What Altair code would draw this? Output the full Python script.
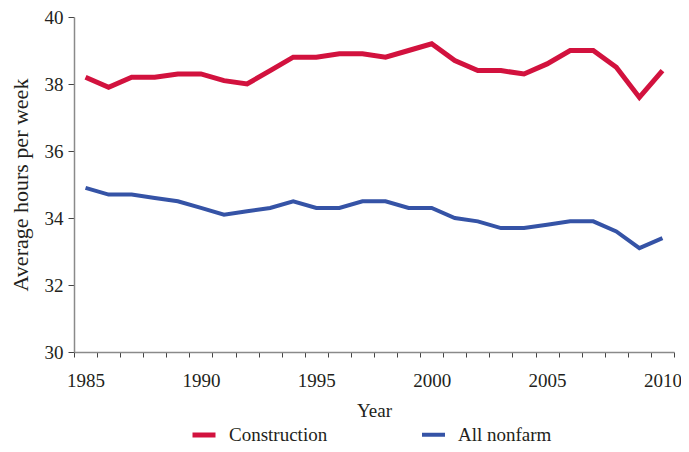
import altair as alt
import pandas as pd

years = list(range(1985, 2011))
construction = [38.2, 37.9, 38.2, 38.2, 38.3, 38.3, 38.1, 38.0, 38.4, 38.8,
                38.8, 38.9, 38.9, 38.8, 39.0, 39.2, 38.7, 38.4, 38.4, 38.3,
                38.6, 39.0, 39.0, 38.5, 37.6, 38.4]
all_nonfarm = [34.9, 34.7, 34.7, 34.6, 34.5, 34.3, 34.1, 34.2, 34.3, 34.5,
               34.3, 34.3, 34.5, 34.5, 34.3, 34.3, 34.0, 33.9, 33.7, 33.7,
               33.8, 33.9, 33.9, 33.6, 33.1, 33.4]
series_names = ["Construction", "All nonfarm"]
series_colors = ["#D2123E", "#3553A6"]
y_ticks = [30, 32, 34, 36, 38, 40]

rows = []
for name, vals in zip(series_names, [construction, all_nonfarm]):
    for yr, v in zip(years, vals):
        rows.append({"year": yr, "hours": v, "series": name})
df = pd.DataFrame(rows)

FONT = "Liberation Serif"
TXT = "#231F20"

chart = alt.Chart(df).mark_line(strokeJoin="miter", strokeCap="butt").encode(
    x=alt.X(
        "year:O",
        bandPosition=0.5,
        scale=alt.Scale(type="band", paddingInner=0, paddingOuter=0),
        axis=alt.Axis(
            title="Year",
            labelAngle=0,
            labelExpr="datum.value % 5 == 0 ? datum.label : ''",
            tickBand="extent",
            tickSize=5,
            labelPadding=14,
            titlePadding=11,
        ),
    ),
    y=alt.Y(
        "hours:Q",
        scale=alt.Scale(domain=[30, 40], nice=False, zero=False),
        axis=alt.Axis(
            title="Average hours per week",
            values=y_ticks,
            format="d",
            tickSize=6,
            labelPadding=5,
            grid=False,
            titleFontSize=22,
            titlePadding=12,
        ),
    ),
    color=alt.Color(
        "series:N",
        scale=alt.Scale(domain=series_names, range=series_colors),
        legend=alt.Legend(
            title=None,
            orient="none",
            legendX=116,
            legendY=404,
            direction="horizontal",
            symbolType="stroke",
            symbolStrokeWidth=5,
            symbolSize=529,
            labelFontSize=19,
            labelFont=FONT,
            labelColor=TXT,
            labelOffset=11,
            columnPadding=86,
            padding=0,
        ),
    ),
    strokeWidth=alt.StrokeWidth(
        "series:N",
        scale=alt.Scale(domain=series_names, range=[5, 4]),
        legend=None,
    ),
).properties(
    width=600,
    height=335,
    autosize=alt.AutoSizeParams(type="none"),
    padding={"left": 66, "top": 9, "right": 7, "bottom": 92},
).configure_view(
    stroke=None
).configure_axis(
    labelFont=FONT,
    titleFont=FONT,
    labelFontSize=19,
    titleFontSize=19,
    titleFontWeight="normal",
    labelColor=TXT,
    titleColor=TXT,
    domainColor="#8A8A8A",
    domainWidth=1.5,
    tickColor="#444444",
    tickWidth=1,
)

chart.save("out.html", embed_options={"renderer": "svg", "actions": False})
